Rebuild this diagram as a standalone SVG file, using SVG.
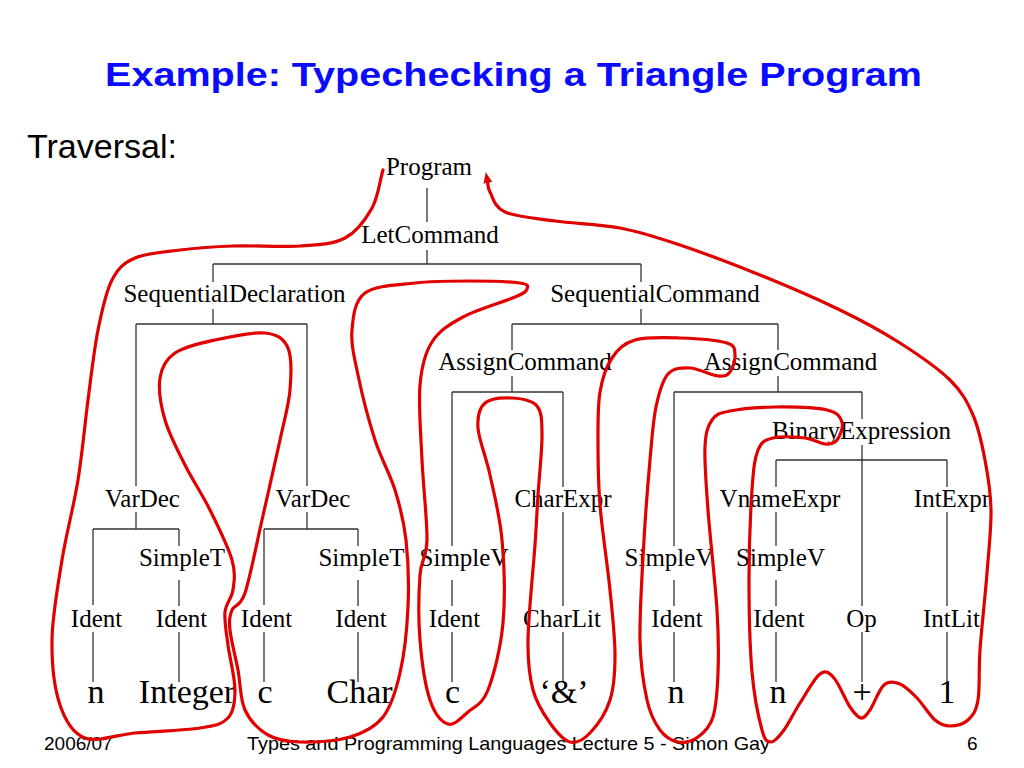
<svg xmlns="http://www.w3.org/2000/svg" width="1024" height="768" viewBox="0 0 1024 768">
<style>
.title{font-family:"Liberation Sans",Arial,sans-serif;font-weight:bold;font-size:34px;fill:#0a0aff}
.sub{font-family:"Liberation Sans",Arial,sans-serif;font-size:34px;fill:#000}
.foot{font-family:"Liberation Sans",Arial,sans-serif;font-size:19px;fill:#000}
.lbl{font-family:"Liberation Serif","Times New Roman",serif;font-size:25px;fill:#000;text-anchor:middle}
.leaf{font-family:"Liberation Serif","Times New Roman",serif;font-size:34px;fill:#000;text-anchor:middle}
.edge{stroke:#333;stroke-width:1.3;fill:none}
.trav{stroke:#e00000;stroke-width:3.2;fill:none;stroke-linecap:round;stroke-linejoin:round}
</style>
<defs>
<marker id="arrow" markerUnits="userSpaceOnUse" markerWidth="12" markerHeight="12" viewBox="0 0 12 12" refX="2" refY="6" orient="auto">
<path d="M0,1.5 L11,6 L0,10.5 z" fill="#e00000"/>
</marker>
</defs>
<rect width="1024" height="768" fill="#fff"/>
<text class="title" x="105" y="86" textLength="817" lengthAdjust="spacingAndGlyphs">Example: Typechecking a Triangle Program</text>
<text class="sub" x="27" y="158" textLength="150" lengthAdjust="spacingAndGlyphs">Traversal:</text>
<g id="connectors">
<path class="edge" d="M427,188V222 M427,250V264 M213,264H641 M213,264V282 M641,264V282 M213,309V324 M641,309V324 M136,324H307 M136,324V486 M307,324V486 M136,512V529 M307,512V529 M93,529H179 M264,529H358 M93,529V605 M264,529V605 M179,529V546 M358,529V546 M179,580V606 M358,580V606 M93,632V682 M179,632V682 M264,632V682 M358,632V682"/>
<path class="edge" d="M512,324H778 M512,324V350 M512,376V392 M452,392H563 M452,392V546 M563,392V487 M452,580V606 M452,632V682 M563,512V606 M563,632V682"/>
<path class="edge" d="M778,324V350 M778,376V392 M674,392H862 M674,392V546 M674,580V606 M674,632V682 M862,392V419 M862,445V606 M862,632V682 M776,460H947 M776,460V487 M776,512V546 M776,580V606 M776,632V682 M947,460V487 M947,512V606 M947,632V682"/>
</g>
<g id="n-program"><text class="lbl" x="429" y="175">Program</text></g>
<g id="n-letcommand"><text class="lbl" x="430" y="243">LetCommand</text></g>
<g id="n-seqdecl"><text class="lbl" x="234.5" y="302">SequentialDeclaration</text></g>
<g id="n-seqcmd"><text class="lbl" x="655" y="302">SequentialCommand</text></g>
<g id="n-assign1"><text class="lbl" x="525" y="370">AssignCommand</text></g>
<g id="n-assign2"><text class="lbl" x="790.5" y="370">AssignCommand</text></g>
<g id="n-binexpr"><text class="lbl" x="861.5" y="439">BinaryExpression</text></g>
<g id="n-vardec1"><text class="lbl" x="142.5" y="507">VarDec</text></g>
<g id="n-vardec2"><text class="lbl" x="313" y="507">VarDec</text></g>
<g id="n-charexpr"><text class="lbl" x="563" y="507">CharExpr</text></g>
<g id="n-vnameexpr"><text class="lbl" x="780" y="507">VnameExpr</text></g>
<g id="n-intexpr"><text class="lbl" x="952" y="507">IntExpr</text></g>
<g id="n-simplet1"><text class="lbl" x="182" y="566">SimpleT</text></g>
<g id="n-simplet2"><text class="lbl" x="361.5" y="566">SimpleT</text></g>
<g id="n-simplev1"><text class="lbl" x="464" y="566">SimpleV</text></g>
<g id="n-simplev2"><text class="lbl" x="669" y="566">SimpleV</text></g>
<g id="n-simplev3"><text class="lbl" x="780.5" y="566">SimpleV</text></g>
<g id="n-ident1"><text class="lbl" x="96.5" y="627">Ident</text></g>
<g id="n-ident2"><text class="lbl" x="181.5" y="627">Ident</text></g>
<g id="n-ident3"><text class="lbl" x="266.5" y="627">Ident</text></g>
<g id="n-ident4"><text class="lbl" x="361" y="627">Ident</text></g>
<g id="n-ident5"><text class="lbl" x="454.5" y="627">Ident</text></g>
<g id="n-charlit"><text class="lbl" x="562" y="627">CharLit</text></g>
<g id="n-ident6"><text class="lbl" x="677" y="627">Ident</text></g>
<g id="n-ident7"><text class="lbl" x="779" y="627">Ident</text></g>
<g id="n-op"><text class="lbl" x="861.5" y="627">Op</text></g>
<g id="n-intlit"><text class="lbl" x="951.5" y="627">IntLit</text></g>
<g id="leaf-n1"><text class="leaf" x="96" y="703">n</text></g>
<g id="leaf-integer"><text class="leaf" x="187" y="703">Integer</text></g>
<g id="leaf-c1"><text class="leaf" x="265" y="703">c</text></g>
<g id="leaf-char"><text class="leaf" x="359.5" y="703">Char</text></g>
<g id="leaf-c2"><text class="leaf" x="452.5" y="703">c</text></g>
<g id="leaf-amp"><text class="leaf" x="564" y="703">‘&amp;’</text></g>
<g id="leaf-n2"><text class="leaf" x="676" y="703">n</text></g>
<g id="leaf-n3"><text class="leaf" x="778" y="703">n</text></g>
<g id="leaf-plus"><text class="leaf" x="862" y="703">+</text></g>
<g id="leaf-one"><text class="leaf" x="947" y="703">1</text></g>
<g id="footer">
<text class="foot" x="44" y="750">2006/07</text>
<text class="foot" x="247" y="750" textLength="523" lengthAdjust="spacingAndGlyphs">Types and Programming Languages Lecture 5 - Simon Gay</text>
<text class="foot" x="967" y="750">6</text>
</g>
<g id="traversal">
<path class="trav" marker-end="url(#arrow)" d="M383,170 C379.3,182.7 378.3,196.7 372,208 S357,231.7 345,238 S318.7,244.7 300,246 S253,245.3 233,246 S196.3,248 180,250 S146.3,253 135,258 S118.2,268 112,280 S102,310 98,330 S91.3,375 88,400 S82.3,453.3 78,480 S66.3,533.3 62,560 S52.3,615.8 52,640 S54.5,688.7 60,705 S72.5,733.3 85,738 S115.8,734.7 135,733 S184.5,730.5 200,728 S222.2,724.3 228,718 S235,702.2 235,690 S229.7,658 228,645 S224.2,621.2 225,612 S231.8,598.7 233,590 S235.8,573.3 232,560 S217.8,525.8 210,510 S192.5,480 185,465 S169.2,434.5 165,420 S158.3,389.2 160,378 S165.8,359.3 175,353 S200,343.3 215,340 S252.8,331.7 265,333 S283.8,338.5 288,348 S291.3,374.7 290,390 S284.7,418.3 280,440 S267.8,494.5 262,520 S250,578 245,593 S234.5,603.8 232,610 S229,620 230,630 S235.5,656.7 238,670 S240,699.2 245,710 S258.8,729.7 268,735 S286.3,741.7 300,742 S336.2,741.2 350,737 S374.7,727.7 383,717 S395.8,691.3 400,673 S407,629.2 408,607 S408.2,559.5 406,540 S400.2,506.7 395,490 S381.2,459.2 375,440 S361.8,393.3 358,375 S350.8,343.7 352,330 S354.5,300.8 365,293 S397.5,285 415,283 S452.5,281 470,281 S510.5,281.7 520,283 S527.8,286.7 527,289 S525.7,292.3 515,297 S476.8,309.5 463,317 S439.2,330.7 432,342 S421.7,365.3 420,385 S420.8,434.2 422,460 S427.3,520.8 427,540 S421.2,558.3 420,575 S418.3,619.2 420,640 S425.3,686 430,700 S441.7,722 448,724 S461.3,717.7 468,712 S482.2,704.8 488,690 S500.7,648 503,623 S504.2,564.7 502,540 S494,493.7 490,475 S478.8,440 478,428 S479.3,408 485,403 S503.3,397.5 512,398 S532,399.8 537,406 S541.8,420.2 542,435 S539.2,476.7 538,495 S536.7,520.8 535,545 S528.3,615.8 528,640 S529.3,676.2 533,690 S543.8,714.3 550,723 S563.3,740.3 570,742 S583.3,740 590,733 S605.8,713 610,700 S615,673.3 615,655 S612.5,615 610,590 S602,530 600,505 S598,458.8 598,440 S597.7,405.7 600,392 S606.2,366.7 612,358 S623.7,343.3 635,340 S664.7,337.5 680,338 S717.8,340.2 727,343 S734.5,350.2 735,355 S732.8,368.5 730,372 S724.7,376.7 718,376 S698.3,368.3 690,368 S673.7,367.5 668,374 S659,392.7 656,407 S652,437.8 650,460 S645.7,510 644,540 S639.5,613.3 640,640 S643.7,685 647,700 S654.8,723 660,730 S671.7,740.8 678,742 S692.2,741.2 698,737 S709.7,727.7 713,717 S717.3,690.8 718,673 S718.7,637.2 717,610 S710,537.2 708,510 S704.3,462 705,447 S707.8,426 712,420 S719.5,413.2 730,411 S758.8,407.2 775,407 S815.8,407.5 827,410 S840.3,417 842,422 S839.8,436.3 837,440 S830.3,444.3 825,444 S813.7,439 805,438 S780.8,436 773,438 S761.5,441.3 758,450 S753.5,468.3 752,490 S749,549.7 749,580 S749.8,647 752,672 S758.8,718.3 762,730 S767.3,742 771,742 S779.2,736.5 784,730 S794,712.3 800,703 S814.3,678.2 820,674 S829,672.5 834,678 S845.5,700.3 850,707 S857.7,717.5 861,718 S866.2,715.5 870,710 S879,689.3 884,685 S894.5,681.8 900,684 S911.2,692 917,698 S929.5,715.3 935,720 S944.5,726 950,726 S963.3,724.3 968,720 S976,711.7 978,700 S978.5,671.2 980,650 S985.2,596.3 987,573 S991.3,528.8 991,510 S988,475.8 985,460 S978.8,428.3 973,415 S962.2,392 950,380 S918.3,354.7 900,343 S863.3,321.3 840,310 S786.7,285.8 760,275 S703.3,252.8 680,245 S640.8,232 620,228 S574.2,223.7 555,221 S515.8,216.8 505,212 S492.9,197.2 490,192 S488.5,186 487.5,181"/>
</g>
</svg>
